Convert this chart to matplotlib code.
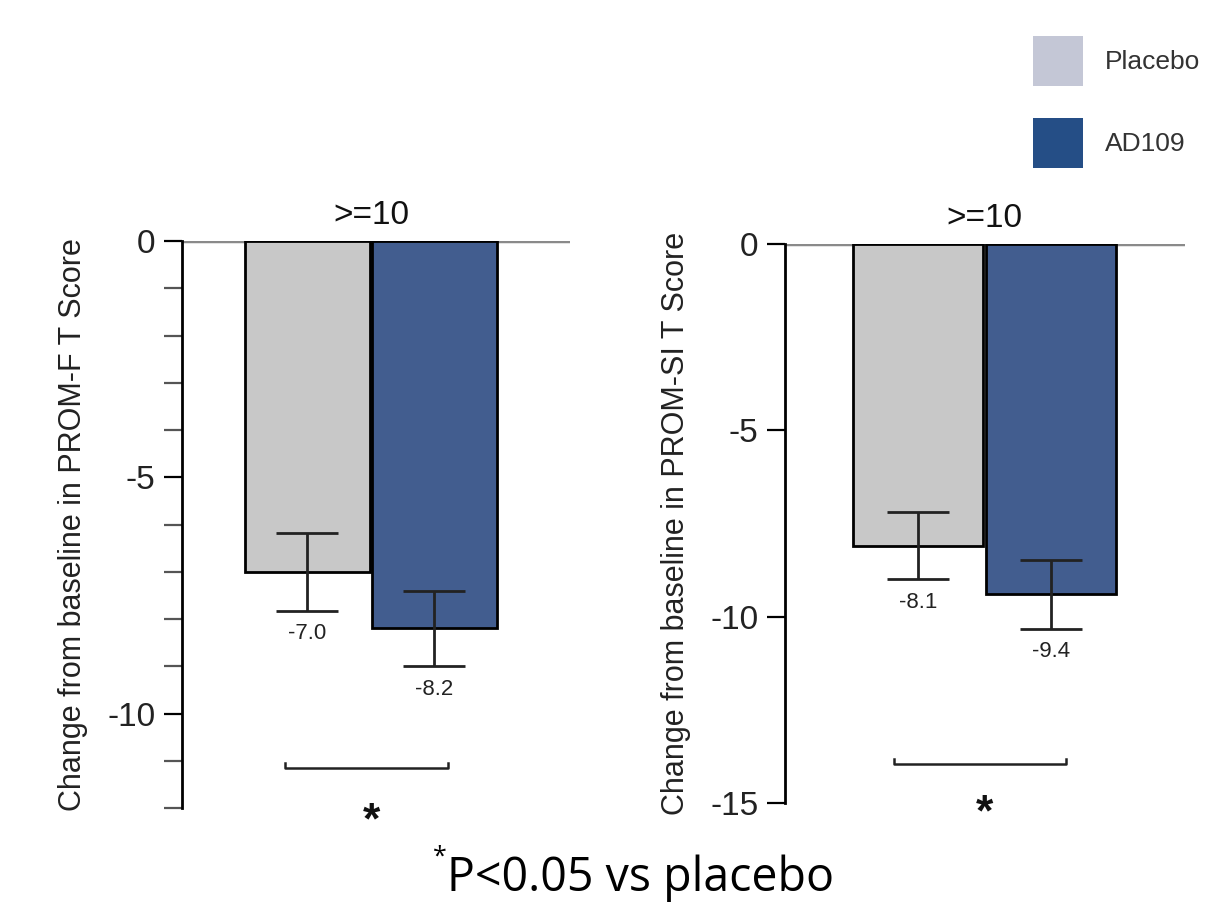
import matplotlib
matplotlib.use("Agg")
import matplotlib.pyplot as plt
from matplotlib.patches import Rectangle

# data
groups = ["Placebo", "AD109"]
f_means = [-7.0, -8.2]
f_errs = [0.83, 0.80]
si_means = [-8.1, -9.4]
si_errs = [0.90, 0.93]
subgroup = ">=10"
f_label = "Change from baseline in PROM-F T Score"
si_label = "Change from baseline in PROM-SI T Score"

bar_colors = ["#c8c8c8", "#425d8f"]
legend_colors = ["#c4c7d6", "#254e86"]

plt.rcParams["font.family"] = ["Liberation Sans", "DejaVu Sans"]
plt.rcParams["axes.unicode_minus"] = False

fig = plt.figure(figsize=(12.29, 9.07), dpi=100)

ax1 = fig.add_axes([182/1229, 1-808/907, 388/1229, 567/907])
ax2 = fig.add_axes([785/1229, 1-803/907, 400/1229, 559/907])


def panel(ax, means, errs, ylim, major, minor, xlim, width, ylabel, bracket_y, star_y):
    x = range(len(means))
    ax.bar(x, means, width=width, color=bar_colors, edgecolor="black", linewidth=2, zorder=2)
    ax.errorbar(x, means, yerr=errs, fmt="none", ecolor="#222222", elinewidth=2,
                capsize=22, capthick=2, zorder=3)
    for xi, m, e in zip(x, means, errs):
        ax.annotate(f"{m:.1f}", xy=(xi, m - e), xytext=(0, -9), textcoords="offset points",
                    ha="center", va="top", fontsize=16, color="#222222")
    ax.axhline(0, color="#8a8a8a", linewidth=2.5, zorder=1)
    ax.set_xlim(*xlim)
    ax.set_ylim(*ylim)
    ax.set_yticks(major)
    ax.set_yticks(minor, minor=True)
    ax.set_xticks([])
    for s in ["top", "right", "bottom"]:
        ax.spines[s].set_visible(False)
    ax.spines["left"].set_linewidth(2)
    ax.tick_params(axis="y", which="both", direction="out", length=13, width=1.6,
                   labelsize=24, labelcolor="#222222", pad=6)
    ax.tick_params(axis="y", which="minor", color="#555555")
    ax.set_ylabel(ylabel, fontsize=22, color="#222222", labelpad=14)
    ax.annotate(subgroup, xy=(0.5, 0), xytext=(0, 7), textcoords="offset points",
                ha="center", va="bottom", fontsize=24, color="#111111",
                annotation_clip=False)
    # significance bracket
    x0, x1 = -0.18, 1.11
    ax.plot([x0, x0, x1, x1], [bracket_y + 0.12, bracket_y, bracket_y, bracket_y + 0.12],
            color="#222222", linewidth=1.8, clip_on=False)
    ax.text(0.5, star_y, "*", ha="center", va="center", fontsize=32, fontweight="bold",
            color="#111111", clip_on=False)


panel(ax1, f_means, f_errs, (-12, 0), [0, -5, -10], list(range(-12, 1)),
      (-0.988, 2.067), 0.984, f_label, -11.16, -12.3)
panel(ax2, si_means, si_errs, (-15, 0), [0, -5, -10, -15], [],
      (-1.0, 2.008), 0.98, si_label, -13.95, -15.3)

# legend as boxes drawn in figure space
for i, (name, col) in enumerate(zip(groups, legend_colors)):
    top = 36 + i * 82
    fig.add_artist(Rectangle((1033/1229, 1-(top+50)/907), 50/1229, 50/907,
                             transform=fig.transFigure, facecolor=col, edgecolor="none"))
    fig.text(1105/1229, 1-(top+26)/907, name, ha="left", va="center", fontsize=19,
             color="#333333")

# footnote
fig.text(447/1229, 1-878/907, "P<0.05 vs placebo", ha="left", va="center",
         fontsize=33.5, family=["Open Sans", "DejaVu Sans"], color="black")
fig.text(447/1229, 1-857/907, "*", ha="right", va="center", fontsize=18,
         family=["Open Sans", "DejaVu Sans"], color="black")

fig.savefig("out.png", dpi=100)
